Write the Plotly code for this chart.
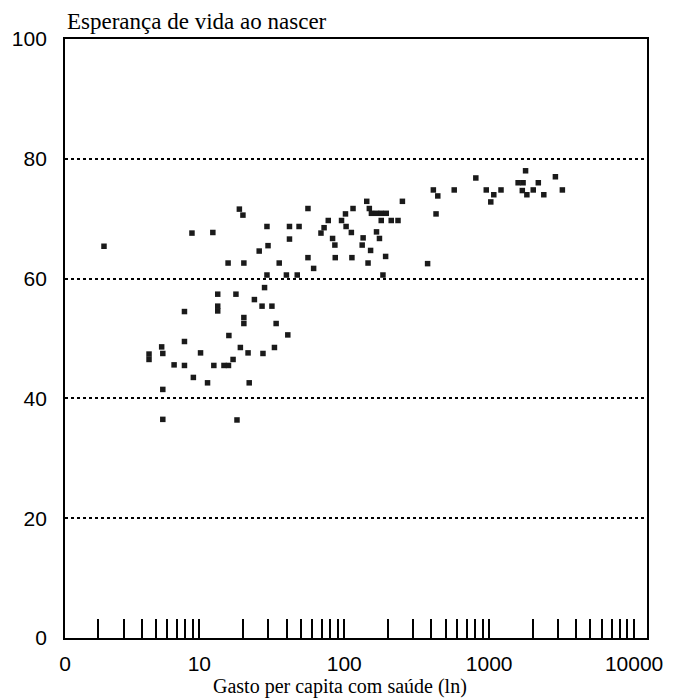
import plotly.graph_objects as go

# Gasto per capita com saúde (escala log) e esperança de vida ao nascer
gasto = [
    2.2, 8.9, 12.4, 13.4, 13.4, 13.4, 7.9, 7.9, 5.5, 5.6, 4.5, 4.5, 10.2, 6.7, 7.9,
    12.6, 14.8, 15.9, 9.1, 11.4, 5.6, 5.6, 18.2, 22.1, 28.2, 17.9, 24.0, 27.1, 31.7,
    20.3, 20.3, 33.9, 16.0, 40.8, 19.2, 21.7, 27.5, 33.0, 17.1,
    18.9, 20.0, 56.2, 29.3, 41.9, 48.8, 41.9, 77.6, 72.6, 69.1, 102, 95.8, 103, 112,
    83.1, 86.2, 29.8, 25.9, 56.2, 86.7, 15.8, 20.3, 35.6, 61.5, 29.3, 39.9, 47.4,
    412, 442, 252, 143, 149, 115, 154, 167, 180, 195, 430, 180, 211, 235, 167, 135,
    133, 175, 152, 113, 193, 146, 376, 185,
    1783, 2864, 809, 1584, 1714, 2183, 574, 955, 1076, 1207, 1026, 1693, 1820, 2014,
    2382, 3199,
]
esperanca = [
    65.4, 67.6, 67.7, 57.4, 55.4, 54.6, 54.5, 49.5, 48.6, 47.5, 47.4, 46.5, 47.6, 45.6, 45.5,
    45.5, 45.5, 45.5, 43.5, 42.6, 41.5, 36.5, 36.4, 42.6, 58.5, 57.4, 56.5, 55.4, 55.4,
    53.5, 52.5, 52.5, 50.5, 50.6, 48.5, 47.6, 47.5, 48.5, 46.5,
    71.6, 70.6, 71.7, 68.7, 68.7, 68.7, 66.6, 69.7, 68.5, 67.6, 70.8, 69.7, 68.7, 67.7,
    66.7, 65.6, 65.5, 64.6, 63.5, 63.5, 62.6, 62.6, 62.6, 61.7, 60.6, 60.6, 60.6,
    74.8, 73.8, 72.9, 72.9, 71.7, 71.7, 70.9, 70.9, 70.9, 70.9, 70.8, 69.7, 69.7, 69.7, 67.8, 66.8,
    65.6, 66.7, 64.7, 63.5, 63.7, 62.6, 62.5, 60.6,
    78.0, 77.0, 76.8, 76.0, 76.0, 76.0, 74.8, 74.8, 74.0, 74.8, 72.8, 74.7, 74.0, 74.8,
    74.0, 74.8,
]

y_ticks = [0, 20, 40, 60, 80, 100]
x_left = 1.184  # left edge of the axis, labelled "0"
x_decades = [10, 100, 1000, 10000]
x_decade_labels = ["10", "100", "1000", "10000"]

tickvals = [x_left]
ticktext = ["0"]
for dec in [1, 10, 100, 1000]:
    for m in range(2, 11):
        v = dec * m
        tickvals.append(v)
        ticktext.append(x_decade_labels[x_decades.index(v)] if v in x_decades else "")

fig = go.Figure()
fig.add_trace(go.Scatter(
    x=gasto, y=esperanca, mode="markers",
    marker=dict(symbol="square", size=5.5, color="#1a1a1a", line=dict(width=0)),
    hoverinfo="x+y", showlegend=False,
))

fig.update_layout(
    width=680, height=700,
    margin=dict(l=62, r=33, t=39, b=62),
    paper_bgcolor="white", plot_bgcolor="white",
    font=dict(family="Liberation Sans, Arial, sans-serif", size=21, color="black"),
    xaxis=dict(
        type="log", range=[0.0734, 4.089],
        tickmode="array", tickvals=tickvals, ticktext=ticktext,
        ticks="inside", ticklen=19, tickwidth=1.5, tickcolor="black",
        showgrid=False, zeroline=False,
        showline=True, linecolor="black", linewidth=1.8, mirror=True,
        ticklabelstandoff=6,
        tickfont=dict(size=21),
    ),
    yaxis=dict(
        range=[0, 100], tickmode="array", tickvals=y_ticks,
        ticks="", showgrid=True, gridcolor="black", gridwidth=1.5, griddash="dot",
        zeroline=False, showline=True, linecolor="black", linewidth=1.8, mirror=True,
        ticklabelstandoff=12,
        tickfont=dict(size=21),
    ),
    annotations=[
        dict(text="Esperança de vida ao nascer", xref="paper", yref="paper",
             x=0, y=1, xanchor="left", yanchor="bottom", yshift=3, showarrow=False,
             font=dict(family="Liberation Serif, Times New Roman, serif", size=23)),
        dict(text="Gasto per capita com saúde (ln)", xref="paper", yref="paper",
             x=0.472, y=0, xanchor="center", yanchor="top", yshift=-35, showarrow=False,
             font=dict(family="Liberation Serif, Times New Roman, serif", size=20)),
    ],
)

fig.write_html("out.html")
